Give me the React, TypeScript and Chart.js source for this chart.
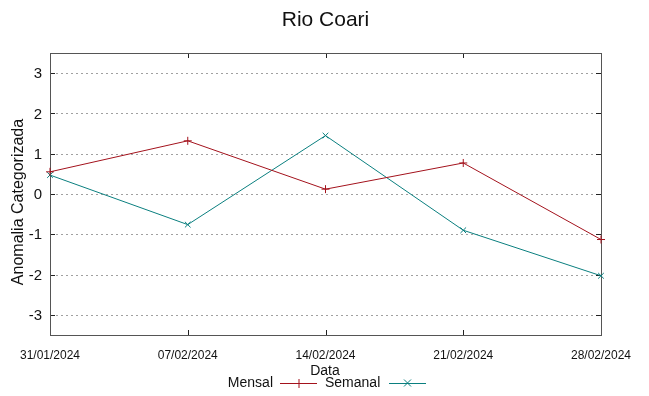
import React, { useEffect, useRef } from "react";
import { Chart, registerables } from "chart.js";

Chart.register(...registerables);

const titleText = "Rio Coari";
const xTitle = "Data";
const yTitle = "Anomalia Categorizada";
const dates = ["31/01/2024", "07/02/2024", "14/02/2024", "21/02/2024", "28/02/2024"];
const mensal = [0.55, 1.32, 0.12, 0.77, -1.13];
const semanal = [0.47, -0.76, 1.45, -0.9, -2.03];
const yTicks = [-3, -2, -1, 0, 1, 2, 3];
const yMin = -3.5;
const yMax = 3.5;
const seriesNames = ["Mensal", "Semanal"];
const seriesColors = ["#a3121c", "#0a7f7f"];

const FONT = "'Liberation Sans', Arial, sans-serif";

const decorPlugin = {
  id: "decor",
  beforeDatasetsDraw(chart: any) {
    const { ctx, chartArea: a, scales } = chart;
    const y = scales.y;
    const x = scales.x;
    ctx.save();
    ctx.strokeStyle = "#a0a0a0";
    ctx.lineWidth = 1;
    ctx.setLineDash([2, 3]);
    yTicks.forEach((v) => {
      const py = Math.round(y.getPixelForValue(v)) + 0.5;
      ctx.beginPath();
      ctx.moveTo(a.left + 6, py);
      ctx.lineTo(a.right - 6, py);
      ctx.stroke();
    });
    ctx.setLineDash([]);
    ctx.strokeStyle = "#222";
    yTicks.forEach((v) => {
      const py = Math.round(y.getPixelForValue(v)) + 0.5;
      ctx.beginPath();
      ctx.moveTo(a.left, py);
      ctx.lineTo(a.left + 5, py);
      ctx.moveTo(a.right, py);
      ctx.lineTo(a.right - 5, py);
      ctx.stroke();
    });
    dates.forEach((_, i) => {
      const px = Math.round(x.getPixelForValue(i)) + 0.5;
      ctx.beginPath();
      ctx.moveTo(px, a.top);
      ctx.lineTo(px, a.top + 5);
      ctx.moveTo(px, a.bottom);
      ctx.lineTo(px, a.bottom - 5);
      ctx.stroke();
    });
    ctx.strokeStyle = "#555";
    ctx.strokeRect(Math.round(a.left) + 0.5, Math.round(a.top) + 0.5, Math.round(a.right - a.left), Math.round(a.bottom - a.top));
    ctx.restore();
  },
  afterDraw(chart: any) {
    const { ctx, chartArea: a, scales } = chart;
    const y = scales.y;
    const x = scales.x;
    ctx.save();
    ctx.fillStyle = "#111";
    ctx.font = `15px ${FONT}`;
    ctx.textAlign = "right";
    ctx.textBaseline = "middle";
    yTicks.forEach((v) => {
      ctx.fillText(String(v), a.left - 8, y.getPixelForValue(v) + 1);
    });
    ctx.font = `12px ${FONT}`;
    ctx.textAlign = "center";
    dates.forEach((d, i) => {
      ctx.fillText(d, x.getPixelForValue(i), 356);
    });
    ctx.font = `21px ${FONT}`;
    ctx.textBaseline = "alphabetic";
    ctx.fillText(titleText, (a.left + a.right) / 2, 26);
    ctx.font = `14px ${FONT}`;
    ctx.textBaseline = "middle";
    ctx.fillText(xTitle, 325, 371);
    ctx.save();
    ctx.font = `16px ${FONT}`;
    ctx.translate(19, 202);
    ctx.rotate(-Math.PI / 2);
    ctx.fillText(yTitle, 0, 0);
    ctx.restore();
    const ly = 383;
    ctx.font = `14px ${FONT}`;
    ctx.textAlign = "right";
    ctx.fillText(seriesNames[0], 273, ly);
    ctx.textAlign = "left";
    ctx.fillText(seriesNames[1], 325, ly);
    const samples = [
      { x0: 280, x1: 317, c: seriesColors[0], cross: false },
      { x0: 389, x1: 426, c: seriesColors[1], cross: true },
    ];
    samples.forEach((s) => {
      ctx.strokeStyle = s.c;
      ctx.lineWidth = 1;
      ctx.beginPath();
      ctx.moveTo(s.x0, ly + 0.5);
      ctx.lineTo(s.x1, ly + 0.5);
      ctx.stroke();
      const cx = (s.x0 + s.x1) / 2;
      ctx.beginPath();
      if (s.cross) {
        ctx.moveTo(cx - 3.5, ly - 3.5);
        ctx.lineTo(cx + 3.5, ly + 3.5);
        ctx.moveTo(cx + 3.5, ly - 3.5);
        ctx.lineTo(cx - 3.5, ly + 3.5);
      } else {
        ctx.moveTo(cx + 0.5, ly - 4);
        ctx.lineTo(cx + 0.5, ly + 5);
      }
      ctx.stroke();
    });
    ctx.restore();
  },
};

export default function App() {
  const ref = useRef<HTMLCanvasElement | null>(null);
  useEffect(() => {
    if (!ref.current) return;
    const chart = new Chart(ref.current, {
      type: "line",
      data: {
        labels: dates,
        datasets: [
          {
            label: seriesNames[0],
            data: mensal,
            borderColor: seriesColors[0],
            backgroundColor: seriesColors[0],
            borderWidth: 1,
            pointStyle: "cross",
            pointRadius: 4,
            pointBorderWidth: 1,
            tension: 0,
            clip: false,
          },
          {
            label: seriesNames[1],
            data: semanal,
            borderColor: seriesColors[1],
            backgroundColor: seriesColors[1],
            borderWidth: 1,
            pointStyle: "crossRot",
            pointRadius: 4,
            pointBorderWidth: 1,
            tension: 0,
            clip: false,
          },
        ],
      },
      options: {
        responsive: false,
        animation: false,
        layout: { padding: { left: 0, right: 48, top: 53, bottom: 0 } },
        plugins: { legend: { display: false }, title: { display: false }, tooltip: { enabled: false } },
        scales: {
          x: {
            type: "category",
            offset: false,
            grid: { display: false },
            border: { display: false },
            ticks: { display: false },
            afterFit: (s: any) => {
              s.height = 61;
            },
          },
          y: {
            min: yMin,
            max: yMax,
            grid: { display: false },
            border: { display: false },
            ticks: { display: false },
            afterFit: (s: any) => {
              s.width = 50;
            },
          },
        },
      },
      plugins: [decorPlugin],
    } as any);
    return () => chart.destroy();
  }, []);
  return (
    <div style={{ position: "fixed", left: 0, top: 0, width: 649, height: 396, background: "#fff" }}>
      <canvas ref={ref} width={649} height={396} style={{ display: "block" }} />
    </div>
  );
}
